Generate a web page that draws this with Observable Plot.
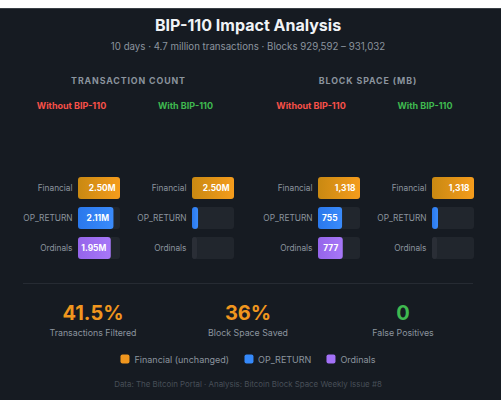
<!DOCTYPE html>
<html>
<head>
<meta charset="utf-8">
<script src="https://cdn.jsdelivr.net/npm/d3@7"></script>
<script src="https://cdn.jsdelivr.net/npm/@observablehq/plot@0.6"></script>
<style>
  html, body { margin: 0; padding: 0; background: #ffffff; width: 501px; height: 400px; overflow: hidden; }
  body { font-family: Inter, "Noto Sans", sans-serif; position: relative; }
  #bg { position: absolute; left: 0; top: 8px; width: 501px; height: 392px; background: #161b22; border-top: 1px solid #3a3f46; box-sizing: border-box; }
  .abs { position: absolute; white-space: nowrap; }
  .center { transform: translate(-50%, -50%); text-align: center; }
  #title { left: 248px; top: 25px; color: #f0f3f6; font-weight: 700; font-size: 16px; }
  #subtitle { left: 248px; top: 45.5px; color: #8b949e; font-size: 9.7px; }
  .section { top: 80px; color: #8b949e; font-weight: 700; font-size: 8.8px; letter-spacing: 0.9px; }
  .col { top: 105px; font-weight: 700; font-size: 9px; }
  .red { color: #f85149; }
  .green { color: #3fb950; }
  .statnum { top: 313px; font-weight: 700; font-size: 20px; }
  .statlbl { top: 332px; color: #8b949e; font-size: 8.8px; }
  #divider { left: 23px; top: 283px; width: 450px; height: 1px; background: #262b33; }
  #legend { left: 248px; top: 358.5px; display: flex; align-items: center; gap: 15px; color: #8b949e; font-size: 9px; }
  .li { display: flex; align-items: center; gap: 5px; }
  .sw { width: 9px; height: 9px; border-radius: 2px; display: inline-block; }
  #footer { left: 248px; top: 384px; color: #484f58; font-size: 7.9px; }
  .panel { position: absolute; top: 166.6px; }
</style>
</head>
<body>
<div id="bg"></div>
<svg width="0" height="0" style="position:absolute">
  <defs>
    <linearGradient id="gradFin" x1="0" x2="1" y1="0" y2="0">
      <stop offset="0" stop-color="#c98912"></stop>
      <stop offset="1" stop-color="#f59c1c"></stop>
    </linearGradient>
    <linearGradient id="gradOp" x1="0" x2="1" y1="0" y2="0">
      <stop offset="0" stop-color="#2a78ec"></stop>
      <stop offset="1" stop-color="#3a8bfb"></stop>
    </linearGradient>
    <linearGradient id="gradOrd" x1="0" x2="1" y1="0" y2="0">
      <stop offset="0" stop-color="#9565ea"></stop>
      <stop offset="1" stop-color="#a777f8"></stop>
    </linearGradient>
  </defs>
</svg>
<div id="title" class="abs center">BIP-110 Impact Analysis</div>
<div id="subtitle" class="abs center">10 days · 4.7 million transactions · Blocks 929,592 – 931,032</div>
<div class="abs center section" style="left:128.5px">TRANSACTION COUNT</div>
<div class="abs center section" style="left:368px">BLOCK SPACE (MB)</div>
<div class="abs center col red" style="left:71.5px">Without BIP-110</div>
<div class="abs center col green" style="left:185.5px">With BIP-110</div>
<div class="abs center col red" style="left:311px">Without BIP-110</div>
<div class="abs center col green" style="left:425px">With BIP-110</div>
<div id="divider" class="abs"></div>
<div id="stats"></div>
<div id="legend" class="abs center"></div>
<div id="footer" class="abs center">Data: The Bitcoin Portal · Analysis: Bitcoin Block Space Weekly Issue #8</div>
<div id="panels"></div>
<script>
// ---- data ----
const categories = ["Financial", "OP_RETURN", "Ordinals"];
const txWithout = [2.50, 2.11, 1.95];      // million transactions
const txWith = [2.50, 0.36, 0.30];
const mbWithout = [1318, 755, 777];        // MB of block space
const mbWith = [1318, 188, 160];
const statValues = ["41.5%", "36%", "0"];
const statLabels = ["Transactions Filtered", "Block Space Saved", "False Positives"];
const legendLabels = ["Financial (unchanged)", "OP_RETURN", "Ordinals"];

// ---- styles ----
const barFill = {Financial: "url(#gradFin)", OP_RETURN: "url(#gradOp)", Ordinals: "url(#gradOrd)"};
const dimFill = {Financial: "url(#gradFin)", OP_RETURN: "url(#gradOp)", Ordinals: "#2a2e36"};
const legendColors = ["#f0961e", "#3589fa", "#a371f7"];
const statColors = ["#f0961e", "#f0961e", "#3fb950"];
const statX = [93, 248, 403];
const panelLeft = [0, 114, 240, 354];

const fmtTx = v => d3.format(".2f")(v) + "M";
const fmtMb = v => d3.format(",")(v);

function panel(values, fmt, fills, left) {
  const max = d3.max(values);
  const rows = categories.map((c, i) => ({cat: c, value: values[i], max,
    label: values[i] / max > 0.3 ? fmt(values[i]) : "", fill: fills[c]}));
  const chart = Plot.plot({
    width: 125, height: 101,
    marginLeft: 78, marginRight: 5, marginTop: 0, marginBottom: 0,
    style: {background: "transparent", color: "#8b949e", fontSize: "8.3px", fontFamily: "Inter, 'Noto Sans', sans-serif", overflow: "visible"},
    x: {domain: [0, max], axis: null},
    y: {domain: categories, padding: 0.27, label: null, tickSize: 0, tickPadding: 6},
    color: {type: "identity"},
    marks: [
      Plot.barX(rows, {y: "cat", x: "max", fill: "#21262d", rx: 3}),
      Plot.barX(rows, {y: "cat", x: "value", fill: "fill", rx: 3}),
      Plot.text(rows, {y: "cat", x: "value", text: "label", dx: -5, textAnchor: "end", fill: "#ffffff", fontWeight: 700, fontSize: 8.4})
    ]
  });
  const wrap = document.createElement("div");
  wrap.className = "panel";
  wrap.style.left = left + "px";
  wrap.appendChild(chart);
  document.getElementById("panels").appendChild(wrap);
}

panel(txWithout, fmtTx, barFill, panelLeft[0]);
panel(txWith, fmtTx, dimFill, panelLeft[1]);
panel(mbWithout, fmtMb, barFill, panelLeft[2]);
panel(mbWith, fmtMb, dimFill, panelLeft[3]);

// stats
const stats = document.getElementById("stats");
statValues.forEach((v, i) => {
  const n = document.createElement("div");
  n.className = "abs center statnum";
  n.style.left = statX[i] + "px";
  n.style.color = statColors[i];
  n.textContent = v;
  stats.appendChild(n);
  const l = document.createElement("div");
  l.className = "abs center statlbl";
  l.style.left = statX[i] + "px";
  l.textContent = statLabels[i];
  stats.appendChild(l);
});

// legend
const legend = document.getElementById("legend");
legendLabels.forEach((t, i) => {
  const it = document.createElement("div");
  it.className = "li";
  it.innerHTML = `<span class="sw" style="background:${legendColors[i]}"></span><span>${t}</span>`;
  legend.appendChild(it);
});
</script>
</body>
</html>
